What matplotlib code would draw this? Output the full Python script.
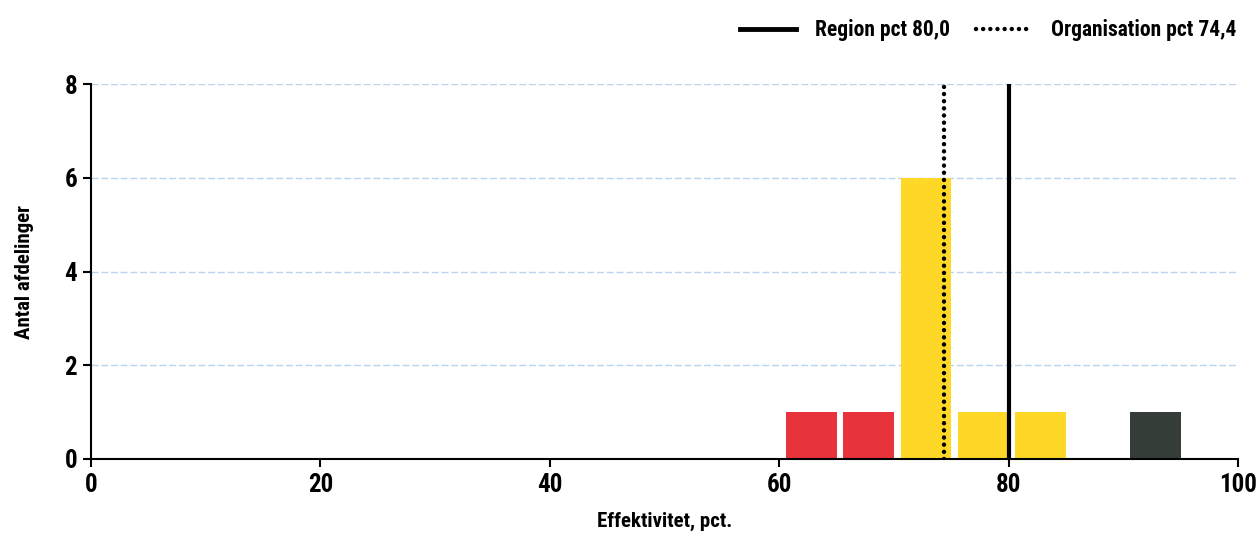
import matplotlib
matplotlib.use("Agg")
import matplotlib.pyplot as plt
from matplotlib.lines import Line2D

bin_starts = [60, 65, 70, 75, 80, 90]
counts = [1, 1, 6, 1, 1, 1]
colors = ["#E8323C", "#E8323C", "#FFD726", "#FFD726", "#FFD726", "#343D37"]
region_pct = 80.0
org_pct = 74.4
xticks = [0, 20, 40, 60, 80, 100]
yticks = [0, 2, 4, 6, 8]

plt.rcParams['font.family'] = ['Roboto Condensed', 'DejaVu Sans']

fig = plt.figure(figsize=(12.6, 5.38), dpi=100)
ax = fig.add_axes([91/1260, 1 - 459/538, (1238-91)/1260, (459-84)/538])

ax.bar([b + 0.6 for b in bin_starts], counts, width=4.4, align='edge', color=colors, zorder=2)
ax.plot([region_pct, region_pct], [0, 8], color='black', lw=3, zorder=3, solid_capstyle='butt')
ax.plot([org_pct, org_pct], [0, 8], color='black', lw=3.2, ls=(0, (0.01, 1.6)), dash_capstyle='round', zorder=3)

ax.set_xlim(0, 100)
ax.set_ylim(0, 8)
ax.set_xticks(xticks)
ax.set_yticks(yticks)
ax.tick_params(axis='both', labelsize=18, length=6, width=1.5, direction='out', pad=4)
for lab in ax.get_xticklabels() + ax.get_yticklabels():
    lab.set_fontweight('bold')
for y in yticks[1:]:
    ax.axhline(y, color='#B8D4EE', lw=1, ls=(0, (5, 2)), zorder=1)
for s in ['top', 'right']:
    ax.spines[s].set_visible(False)
for s in ['left', 'bottom']:
    ax.spines[s].set_linewidth(1.5)
ax.set_xlabel("Effektivitet, pct.", fontsize=15, fontweight='bold', labelpad=11)
ax.set_ylabel("Antal afdelinger", fontsize=15, fontweight='bold', labelpad=22)

handles = [Line2D([], [], color='black', lw=3.5),
           Line2D([], [], color='black', lw=3.2, ls=(0, (0.01, 1.6)), dash_capstyle='round')]
labels = [f"Region pct {region_pct:.1f}".replace('.', ','),
          f"Organisation pct {org_pct:.1f}".replace('.', ',')]
fig.legend(handles, labels, loc='upper right', bbox_to_anchor=(0.997, 1.0), ncol=2, frameon=False,
           prop={'size': 15.5, 'weight': 'bold'}, handlelength=2.6, handletextpad=0.9, columnspacing=1.2)

fig.savefig("out.png", dpi=100, facecolor='white')
